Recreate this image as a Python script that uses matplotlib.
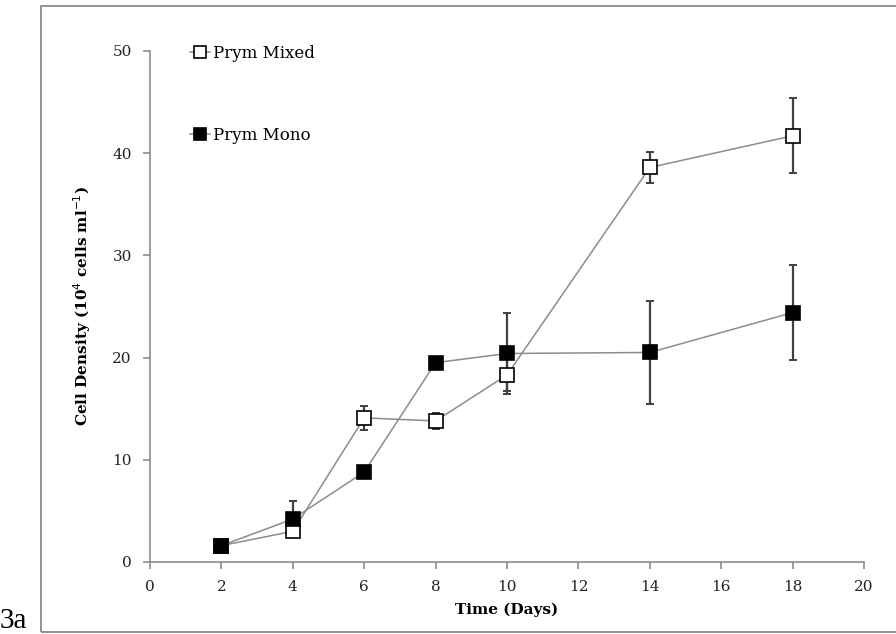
import matplotlib
matplotlib.use("Agg")
import matplotlib.pyplot as plt
from matplotlib.patches import Rectangle

# growth curve data: day, mean cell density (1e4 cells/ml), error
days = [2, 4, 6, 8, 10, 14, 18]
mixed = [1.6, 3.0, 14.1, 13.8, 18.3, 38.6, 41.7]
mixed_err = [0.0, 0.0, 1.2, 0.8, 1.6, 1.5, 3.65]
mono = [1.6, 4.2, 8.8, 19.5, 20.4, 20.5, 24.4]
mono_err = [0.0, 1.8, 0.0, 0.0, 4.0, 5.0, 4.65]

plt.rcParams["font.family"] = "DejaVu Serif"
axis_grey = "#8c8c8c"

fig = plt.figure(figsize=(8.96, 6.34), dpi=100)
ax = fig.add_axes([0.1674, 0.1136, 0.7969, 0.806])

# outer frame around the panel (runs off the right edge)
fig.add_artist(Rectangle((41 / 896, 2 / 634), 1.0, 626 / 634, transform=fig.transFigure,
                         fill=False, edgecolor="#808080", lw=1.2, clip_on=False))
fig.text(0.0, 0.0, "3a", family="Liberation Serif", fontsize=21, ha="left", va="bottom")

for y, err, face, label in [(mixed, mixed_err, "white", "Prym Mixed"),
                            (mono, mono_err, "black", "Prym Mono")]:
    ax.errorbar(days, y, yerr=err, fmt="none", ecolor="#404040", elinewidth=1.6,
                capsize=3, capthick=1.4, zorder=2)
    ax.plot(days, y, "-s", color="#8c8c8c", lw=1.1, markersize=10,
            markerfacecolor=face, markeredgecolor="black", markeredgewidth=1.2,
            label=label, zorder=3)

ax.set_xlim(0, 20)
ax.set_ylim(0, 50)
ax.set_xticks(range(0, 21, 2))
ax.set_yticks(range(0, 51, 10))
for side in ("top", "right"):
    ax.spines[side].set_visible(False)
for side in ("left", "bottom"):
    ax.spines[side].set_color(axis_grey)
    ax.spines[side].set_linewidth(1.2)
ax.tick_params(direction="out", length=5, color=axis_grey, width=1.2,
               labelsize=11, labelcolor="#222222", pad=8)

ax.set_xlabel("Time (Days)", fontweight="bold", fontsize=11, labelpad=6)
ax.set_ylabel("Cell Density (10$^4$ cells ml$^{-1}$)", fontweight="bold",
              fontsize=11, labelpad=14)

ax.legend(loc="upper left", bbox_to_anchor=(0.035, 1.042), frameon=False,
          handlelength=1.2, handletextpad=0.2, labelspacing=3.9, fontsize=12,
          markerscale=0.85)

fig.savefig("out.png", dpi=100)
plt.close(fig)
